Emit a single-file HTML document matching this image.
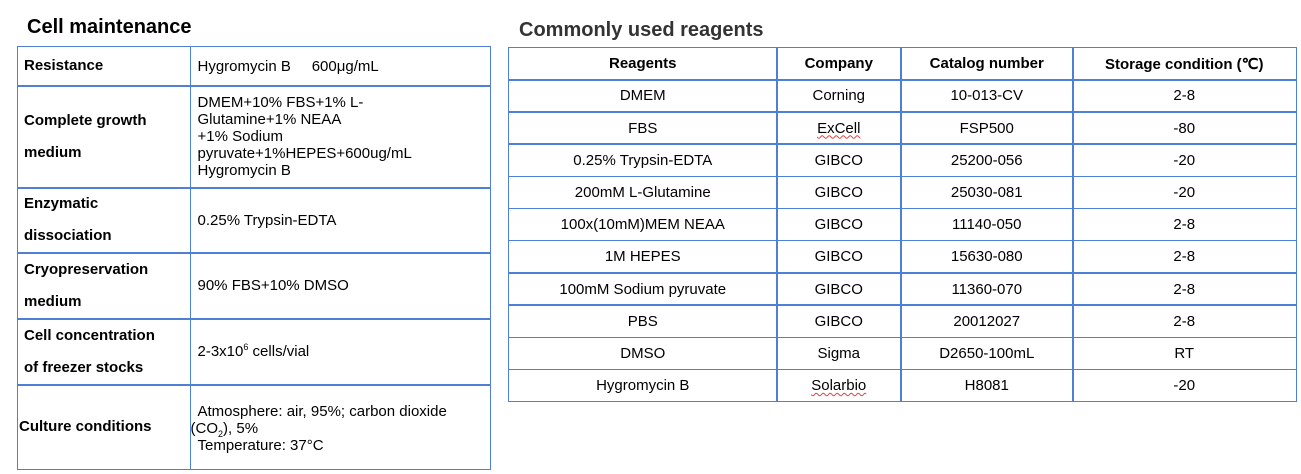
<!DOCTYPE html>
<html><head><meta charset="utf-8"><style>
body{margin:0;width:1301px;height:474px;background:#fff;position:relative;overflow:hidden;font-family:"Liberation Sans",Arial,sans-serif;color:#000}
.t{position:absolute;font-weight:bold;font-size:20px}
.c{position:absolute;box-sizing:border-box;border:1.5px solid #4f7fd6;display:flex;align-items:center;font-size:15px}
.l{font-weight:bold;padding-left:6px;line-height:32px}
.r{padding-left:7px;line-height:17px}
.h{justify-content:center;text-align:center}
.b{font-weight:bold}
.sq{text-decoration:underline wavy #e04040;text-decoration-thickness:1px;text-underline-offset:2px}
sup,sub{line-height:0}
</style></head><body>
<div class="t" style="left:27px;top:16px">Cell maintenance</div>
<div class="t" style="left:519px;top:19px;color:#333">Commonly used reagents</div>
<div id="left"></div>
<div id="right"></div>
<script>
const L=document.getElementById('left');
const ly=[46,85,187,252,318,384,468];
const lLabels=['Resistance','Complete growth<br>medium','Enzymatic<br>dissociation','Cryopreservation<br>medium','Cell concentration<br>of freezer stocks','Culture conditions'];
const lVals=['Hygromycin B &nbsp;&nbsp;&nbsp; 600μg/mL','DMEM+10% FBS+1% L-<br>Glutamine+1% NEAA<br>+1% Sodium<br>pyruvate+1%HEPES+600ug/mL<br>Hygromycin B','0.25% Trypsin-EDTA','90% FBS+10% DMSO','2-3x10<sup style="font-size:9px">6</sup> cells/vial','Atmosphere: air, 95%; carbon dioxide<br><span style="margin-left:-7px">(CO<sub style="font-size:9px">2</sub>), 5%</span><br>Temperature: 37°C'];
for(let i=0;i<6;i++){
 const a=document.createElement('div');a.className='c l';
 
 
 a.style.cssText=`left:17px;top:${ly[i]}px;width:174px;height:${ly[i+1]-ly[i]+1.5}px`+(i==5?';padding-left:1px;line-height:17px':'');
 a.innerHTML='<div>'+lLabels[i]+'</div>';L.appendChild(a);
 const b=document.createElement('div');b.className='c r';
 
 
 b.style.cssText=`left:189.5px;top:${ly[i]}px;width:301px;height:${ly[i+1]-ly[i]+1.5}px`+(i==5?';padding-top:4px':'');
 b.innerHTML='<div>'+lVals[i]+'</div>';L.appendChild(b);
}
const R=document.getElementById('right');
const cx=[508,776,900,1072,1295];
const head=['Reagents','Company','Catalog number','Storage condition (℃)'];
const rows=[['DMEM','Corning','10-013-CV','2-8'],['FBS','<span class="sq">ExCell</span>','FSP500','-80'],['0.25% Trypsin-EDTA','GIBCO','25200-056','-20'],['200mM L-Glutamine','GIBCO','25030-081','-20'],['100x(10mM)MEM NEAA','GIBCO','11140-050','2-8'],['1M HEPES','GIBCO','15630-080','2-8'],['100mM Sodium pyruvate','GIBCO','11360-070','2-8'],['PBS','GIBCO','20012027','2-8'],['DMSO','Sigma','D2650-100mL','RT'],['Hygromycin B','<span class="sq">Solarbio</span>','H8081','-20']];
const ry=[47,79];for(let i=1;i<=10;i++)ry.push(79+i*32.2);
const all=[head,...rows];
for(let r=0;r<all.length;r++)for(let c=0;c<4;c++){
 const d=document.createElement('div');d.className='c h'+(r==0?' b':'');
 
 
 d.style.cssText=`left:${cx[c]}px;top:${ry[r]}px;width:${cx[c+1]-cx[c]+1.5}px;height:${ry[r+1]-ry[r]+1.5}px`;
 d.innerHTML='<div>'+all[r][c]+'</div>';R.appendChild(d);
}
</script>
</body></html>
